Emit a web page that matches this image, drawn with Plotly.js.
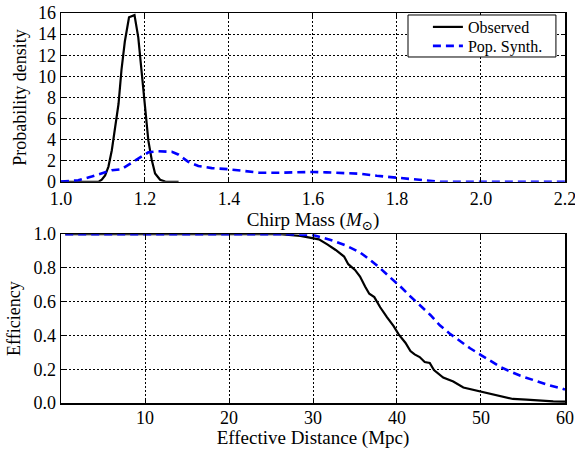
<!DOCTYPE html>
<html>
<head>
<meta charset="utf-8">
<script src="https://cdn.plot.ly/plotly-3.0.1.min.js"></script>
<style>html,body{margin:0;padding:0;background:#fff;}#plot{width:575px;height:449px;}</style>
</head>
<body>
<div id="plot"></div>
<script>
// Top panel: chirp mass probability density
const obsMassX = [1.00, 1.08, 1.09, 1.097, 1.105, 1.113, 1.121, 1.129, 1.137, 1.144, 1.152, 1.162, 1.175, 1.184, 1.192, 1.200, 1.208, 1.216, 1.224, 1.236, 1.248, 1.28];
const obsMassY = [0, 0, 0.02, 0.2, 0.6, 1.45, 3.0, 5.2, 7.4, 10.6, 13.3, 15.6, 15.8, 13.7, 10.6, 7.1, 3.9, 2.1, 0.8, 0.2, 0.03, 0];
const popMassX = [1.00, 1.041, 1.073, 1.097, 1.121, 1.144, 1.160, 1.184, 1.208, 1.232, 1.264, 1.279, 1.303, 1.327, 1.359, 1.398, 1.438, 1.472, 1.52, 1.552, 1.60, 1.632, 1.664, 1.712, 1.752, 1.792, 1.824, 1.856, 1.88, 1.904, 2.0, 2.2];
const popMassY = [0.03, 0.15, 0.5, 0.8, 1.1, 1.2, 1.6, 2.2, 2.8, 2.9, 2.85, 2.6, 1.9, 1.5, 1.3, 1.2, 1.0, 0.87, 0.87, 0.9, 0.94, 0.9, 0.84, 0.77, 0.58, 0.42, 0.29, 0.16, 0.03, 0, 0, 0];

// Bottom panel: efficiency vs effective distance
const obsEffX = [0.5, 26.1, 28.5, 30, 30.7, 31.7, 32.7, 33.7, 34.2, 35.0, 35.6, 36.2, 36.7, 37.3, 38.0, 38.8, 39.6, 40.2, 41.0, 41.6, 42.1, 42.7, 43.3, 43.9, 44.4, 45.5, 46.7, 47.9, 49.1, 50, 51.1, 52.3, 53.8, 55.4, 57.0, 58.6, 60];
const obsEffY = [1, 1, 0.99, 0.978, 0.969, 0.939, 0.906, 0.867, 0.822, 0.788, 0.749, 0.69, 0.647, 0.627, 0.567, 0.508, 0.455, 0.406, 0.357, 0.308, 0.288, 0.272, 0.243, 0.237, 0.195, 0.151, 0.127, 0.092, 0.078, 0.067, 0.053, 0.043, 0.024, 0.02, 0.014, 0.01, 0.008];
const popEffX = [0.5, 26.1, 30.1, 32.5, 34.0, 35.6, 36.8, 38.0, 39.2, 40.4, 41.6, 42.8, 44.0, 45.1, 46.3, 47.5, 48.7, 50, 51.1, 52.3, 53.5, 54.7, 56.3, 57.9, 59.5, 60];
const popEffY = [1, 1, 0.994, 0.959, 0.931, 0.892, 0.847, 0.798, 0.743, 0.69, 0.631, 0.573, 0.52, 0.46, 0.41, 0.367, 0.324, 0.284, 0.249, 0.214, 0.186, 0.161, 0.135, 0.108, 0.088, 0.08];

const seriesNames = ["Observed", "Pop. Synth."];
const massTicks = [1.0, 1.2, 1.4, 1.6, 1.8, 2.0, 2.2];
const densityTicks = [0, 2, 4, 6, 8, 10, 12, 14, 16];
const distTicks = [10, 20, 30, 40, 50, 60];
const effTicks = [0.0, 0.2, 0.4, 0.6, 0.8, 1.0];

const FONT = "Liberation Serif, DejaVu Serif, serif";
const blackLine = {color: "#000000", width: 2.2};
const blueLine = {color: "#0000ff", width: 2.6, dash: "8px,5px"};

const traces = [
  {x: obsMassX, y: obsMassY, mode: "lines", name: seriesNames[0], line: blackLine, xaxis: "x", yaxis: "y", legend: "legend"},
  {x: popMassX, y: popMassY, mode: "lines", name: seriesNames[1], line: blueLine, xaxis: "x", yaxis: "y", legend: "legend2"},
  {x: obsEffX, y: obsEffY, mode: "lines", name: seriesNames[0], line: blackLine, xaxis: "x2", yaxis: "y2", showlegend: false},
  {x: popEffX, y: popEffY, mode: "lines", name: seriesNames[1], line: blueLine, xaxis: "x2", yaxis: "y2", showlegend: false}
];

const axisCommon = {
  showline: true, mirror: "ticks", linecolor: "#000", linewidth: 1.5,
  ticks: "inside", ticklen: 4, tickwidth: 1, tickcolor: "#000",
  showgrid: true, gridcolor: "#000", gridwidth: 1, griddash: "2px,2px",
  zeroline: false, ticklabeloverflow: "allow",
  tickfont: {family: FONT, size: 18, color: "#000"}
};

const legendCommon = {
  xanchor: "left", yanchor: "middle", borderwidth: 0, bgcolor: "rgba(0,0,0,0)",
  font: {family: FONT, size: 16, color: "#000"}
};

const layout = {
  width: 575, height: 449,
  margin: {l: 61, r: 10, t: 13, b: 46},
  paper_bgcolor: "#fff", plot_bgcolor: "#fff",
  font: {family: FONT, color: "#000"},
  showlegend: true,
  legend: Object.assign({}, legendCommon, {x: 0.728, y: 0.9641}),
  legend2: Object.assign({}, legendCommon, {x: 0.728, y: 0.9154}),
  shapes: [{
    type: "rect", xref: "paper", yref: "paper",
    x0: 0.6885, x1: 0.982, y0: 0.8872, y1: 0.9949,
    line: {color: "#000", width: 1}, fillcolor: "#fff", layer: "above"
  }],
  xaxis: Object.assign({}, axisCommon, {
    domain: [0, 1], anchor: "y", range: [1.0, 2.2001],
    tickvals: massTicks, ticktext: massTicks.map(v => v.toFixed(1)),
    title: {text: "Chirp Mass (<i>M</i><sub>⊙</sub>)", font: {family: FONT, size: 19, color: "#000"}, standoff: 4}
  }),
  yaxis: Object.assign({}, axisCommon, {
    domain: [0.567, 1], anchor: "x", range: [0, 16],
    tickvals: densityTicks, ticktext: densityTicks.map(String),
    title: {text: "Probability density", font: {family: FONT, size: 18, color: "#000"}, standoff: 6}
  }),
  xaxis2: Object.assign({}, axisCommon, {
    domain: [0, 1], anchor: "y2", range: [0, 60.001],
    tickvals: distTicks, ticktext: distTicks.map(String),
    ticklabelstandoff: -2,
    title: {text: "Effective Distance (Mpc)", font: {family: FONT, size: 19, color: "#000"}, standoff: 7}
  }),
  yaxis2: Object.assign({}, axisCommon, {
    domain: [0, 0.433], anchor: "x2", range: [0, 1],
    tickvals: effTicks, ticktext: effTicks.map(v => v.toFixed(1)),
    title: {text: "Efficiency", font: {family: FONT, size: 18, color: "#000"}, standoff: 8}
  })
};

Plotly.newPlot("plot", traces, layout, {displayModeBar: false, staticPlot: true});
</script>
</body>
</html>
